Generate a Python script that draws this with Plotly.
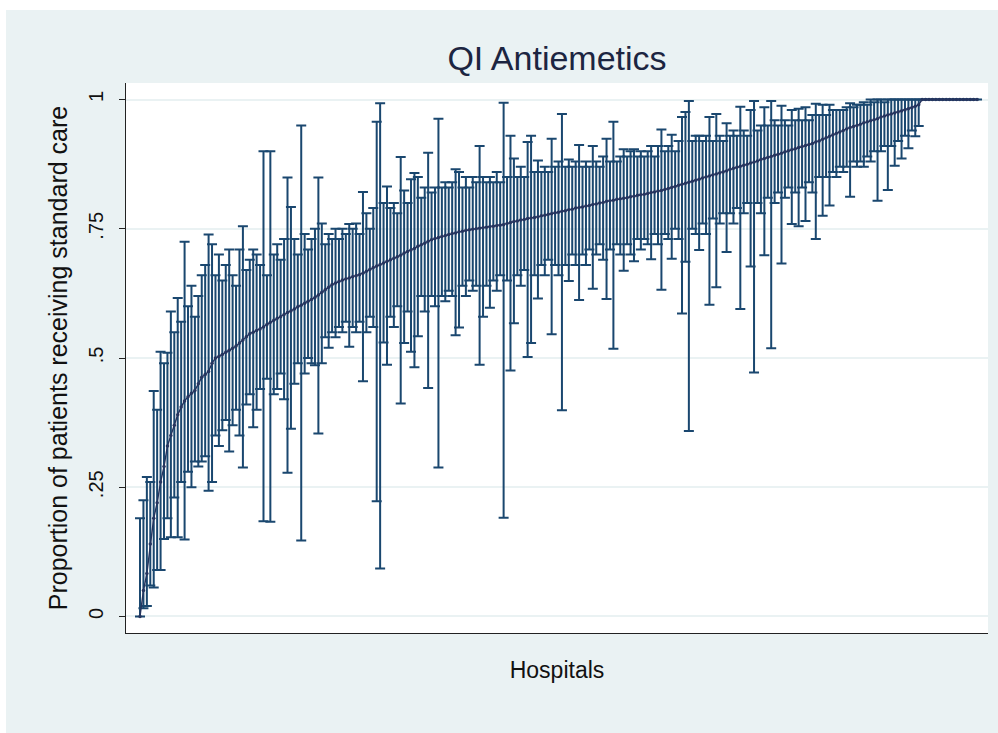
import plotly.graph_objects as go

# ---------------- data ----------------
mean = [
    0.000, 0.050, 0.083, 0.140, 0.190, 0.220, 0.260, 0.290, 0.330, 0.350,
    0.370, 0.390, 0.405, 0.417, 0.425, 0.432, 0.437, 0.450, 0.463, 0.468,
    0.474, 0.490, 0.500, 0.503, 0.507, 0.511, 0.515, 0.519, 0.523, 0.529,
    0.535, 0.541, 0.547, 0.550, 0.553, 0.556, 0.560, 0.565, 0.569, 0.573,
    0.577, 0.580, 0.584, 0.588, 0.591, 0.595, 0.599, 0.602, 0.606, 0.610,
    0.613, 0.617, 0.622, 0.627, 0.632, 0.637, 0.642, 0.645, 0.648, 0.651,
    0.653, 0.655, 0.657, 0.659, 0.661, 0.664, 0.668, 0.671, 0.675, 0.678,
    0.681, 0.684, 0.687, 0.690, 0.693, 0.696, 0.699, 0.703, 0.706, 0.709,
    0.712, 0.716, 0.719, 0.722, 0.726, 0.729, 0.731, 0.733, 0.735, 0.737,
    0.739, 0.741, 0.742, 0.744, 0.745, 0.747, 0.748, 0.749, 0.750, 0.751,
    0.752, 0.753, 0.754, 0.755, 0.756, 0.757, 0.758, 0.760, 0.762, 0.764,
    0.765, 0.767, 0.768, 0.770, 0.771, 0.772, 0.773, 0.775, 0.776, 0.778,
    0.779, 0.781, 0.782, 0.784, 0.785, 0.787, 0.788, 0.790, 0.791, 0.792,
    0.794, 0.795, 0.797, 0.798, 0.800, 0.801, 0.803, 0.804, 0.805, 0.807,
    0.808, 0.809, 0.810, 0.812, 0.813, 0.815, 0.816, 0.817, 0.818, 0.820,
    0.821, 0.823, 0.824, 0.826, 0.828, 0.830, 0.832, 0.834, 0.836, 0.838,
    0.840, 0.842, 0.844, 0.846, 0.848, 0.850, 0.852, 0.854, 0.856, 0.858,
    0.860, 0.862, 0.865, 0.867, 0.869, 0.871, 0.873, 0.875, 0.877, 0.879,
    0.881, 0.884, 0.886, 0.888, 0.890, 0.892, 0.894, 0.896, 0.899, 0.901,
    0.903, 0.905, 0.907, 0.909, 0.911, 0.913, 0.915, 0.918, 0.920, 0.923,
    0.926, 0.929, 0.932, 0.935, 0.937, 0.940, 0.943, 0.946, 0.948, 0.950,
    0.952, 0.955, 0.957, 0.959, 0.961, 0.963, 0.966, 0.968, 0.970, 0.972,
    0.974, 0.976, 0.978, 0.980, 0.982, 0.984, 0.987, 0.990, 1.000, 1.000,
    1.000, 1.000, 1.000, 1.000, 1.000, 1.000, 1.000, 1.000, 1.000, 1.000,
    1.000, 1.000, 1.000, 1.000, 1.000,
]

lower = [
    0.000, 0.016, 0.020, 0.060, 0.056, 0.090, 0.090, 0.150, 0.190, 0.153,
    0.230, 0.153, 0.260, 0.149, 0.280, 0.250, 0.300, 0.290, 0.300, 0.310,
    0.243, 0.260, 0.350, 0.330, 0.360, 0.380, 0.319, 0.370, 0.400, 0.350,
    0.288, 0.410, 0.430, 0.366, 0.400, 0.440, 0.184, 0.460, 0.183, 0.430,
    0.440, 0.470, 0.420, 0.278, 0.363, 0.450, 0.490, 0.147, 0.470, 0.500,
    0.490, 0.486, 0.354, 0.490, 0.540, 0.520, 0.550, 0.540, 0.560, 0.550,
    0.570, 0.522, 0.560, 0.550, 0.570, 0.455, 0.550, 0.580, 0.560, 0.223,
    0.093, 0.530, 0.487, 0.580, 0.560, 0.600, 0.412, 0.529, 0.590, 0.512,
    0.482, 0.542, 0.620, 0.590, 0.442, 0.620, 0.600, 0.288, 0.620, 0.610,
    0.630, 0.620, 0.544, 0.559, 0.640, 0.620, 0.650, 0.630, 0.640, 0.487,
    0.580, 0.640, 0.597, 0.650, 0.630, 0.660, 0.191, 0.650, 0.476, 0.567,
    0.660, 0.640, 0.670, 0.502, 0.529, 0.660, 0.615, 0.680, 0.660, 0.690,
    0.546, 0.680, 0.660, 0.399, 0.680, 0.649, 0.700, 0.680, 0.612, 0.700,
    0.680, 0.710, 0.634, 0.700, 0.720, 0.690, 0.614, 0.710, 0.518, 0.720,
    0.700, 0.669, 0.720, 0.700, 0.687, 0.730, 0.710, 0.730, 0.720, 0.691,
    0.740, 0.720, 0.632, 0.740, 0.730, 0.692, 0.750, 0.730, 0.586, 0.686,
    0.359, 0.750, 0.740, 0.709, 0.760, 0.740, 0.603, 0.770, 0.637, 0.760,
    0.780, 0.705, 0.780, 0.760, 0.790, 0.595, 0.780, 0.800, 0.677, 0.472,
    0.800, 0.780, 0.699, 0.810, 0.519, 0.800, 0.820, 0.683, 0.810, 0.830,
    0.759, 0.820, 0.755, 0.830, 0.765, 0.840, 0.820, 0.730, 0.850, 0.775,
    0.850, 0.795, 0.860, 0.850, 0.870, 0.860, 0.870, 0.812, 0.880, 0.870,
    0.880, 0.870, 0.890, 0.880, 0.900, 0.804, 0.900, 0.910, 0.825, 0.910,
    0.872, 0.920, 0.886, 0.930, 0.906, 0.940, 0.929, 0.949, 1.000, 1.000,
    1.000, 1.000, 1.000, 1.000, 1.000, 1.000, 1.000, 1.000, 1.000, 1.000,
    1.000, 1.000, 1.000, 1.000, 1.000,
]

upper = [
    0.190, 0.225, 0.270, 0.260, 0.436, 0.400, 0.512, 0.490, 0.510, 0.590,
    0.550, 0.616, 0.570, 0.725, 0.600, 0.640, 0.580, 0.620, 0.660, 0.680,
    0.739, 0.720, 0.660, 0.700, 0.650, 0.680, 0.710, 0.660, 0.640, 0.710,
    0.755, 0.670, 0.690, 0.710, 0.700, 0.680, 0.900, 0.660, 0.900, 0.700,
    0.720, 0.690, 0.730, 0.849, 0.792, 0.730, 0.700, 0.950, 0.740, 0.710,
    0.730, 0.750, 0.849, 0.760, 0.720, 0.740, 0.730, 0.750, 0.730, 0.750,
    0.740, 0.759, 0.750, 0.760, 0.740, 0.821, 0.780, 0.750, 0.790, 0.957,
    0.993, 0.800, 0.832, 0.790, 0.800, 0.780, 0.889, 0.824, 0.800, 0.846,
    0.858, 0.850, 0.810, 0.830, 0.897, 0.820, 0.830, 0.963, 0.830, 0.840,
    0.830, 0.840, 0.865, 0.860, 0.830, 0.850, 0.830, 0.850, 0.840, 0.910,
    0.850, 0.840, 0.850, 0.840, 0.860, 0.840, 0.994, 0.850, 0.930, 0.886,
    0.850, 0.870, 0.850, 0.918, 0.930, 0.860, 0.882, 0.860, 0.870, 0.860,
    0.924, 0.870, 0.880, 0.972, 0.870, 0.884, 0.870, 0.880, 0.912, 0.870,
    0.880, 0.870, 0.910, 0.880, 0.870, 0.890, 0.924, 0.880, 0.957, 0.880,
    0.890, 0.904, 0.890, 0.900, 0.904, 0.890, 0.900, 0.890, 0.900, 0.910,
    0.890, 0.910, 0.942, 0.900, 0.910, 0.932, 0.900, 0.920, 0.966, 0.976,
    0.997, 0.920, 0.930, 0.930, 0.920, 0.930, 0.966, 0.920, 0.972, 0.930,
    0.920, 0.954, 0.930, 0.940, 0.930, 0.986, 0.940, 0.930, 0.980, 0.997,
    0.940, 0.950, 0.985, 0.950, 0.997, 0.960, 0.950, 0.988, 0.960, 0.950,
    0.980, 0.960, 0.982, 0.960, 0.985, 0.960, 0.970, 0.992, 0.970, 0.990,
    0.970, 0.990, 0.980, 0.980, 0.980, 0.980, 0.985, 0.993, 0.985, 0.990,
    0.990, 0.995, 0.990, 1.000, 0.995, 1.000, 1.000, 0.995, 1.000, 1.000,
    1.000, 1.000, 1.000, 1.000, 1.000, 1.000, 1.000, 1.000, 1.000, 1.000,
    1.000, 1.000, 1.000, 1.000, 1.000,
]

ytick_vals = [0, 0.25, 0.5, 0.75, 1]
ytick_text = ["0", ".25", ".5", ".75", "1"]

hospital_rank = list(range(1, len(mean) + 1))

# ---------------- figure ----------------
CI_COLOR = "#1a476f"
MEAN_COLOR = "#26355f"
BG = "#EAF2F3"
FONT = "Liberation Sans, Arial, sans-serif"

err_plus = [u - m for u, m in zip(upper, mean)]
err_minus = [m - l for m, l in zip(mean, lower)]

fig = go.Figure()
fig.add_trace(go.Scatter(
    x=hospital_rank, y=mean, mode="markers",
    marker=dict(size=1, color=CI_COLOR),
    error_y=dict(type="data", symmetric=False, array=err_plus,
                 arrayminus=err_minus, color=CI_COLOR, thickness=2, width=5),
    hoverinfo="skip", showlegend=False,
))
fig.add_trace(go.Scatter(
    x=hospital_rank, y=mean, mode="lines+markers",
    line=dict(color=MEAN_COLOR, width=1.4),
    marker=dict(size=3.5, color=MEAN_COLOR),
    showlegend=False,
))

# plot area: x 126..988 px, y 83..633 px
W, H = 998, 733
L, R, T, B = 126, 988, 83, 633
pw, ph = R - L, B - T

def px_to_paper_x(px):
    return (px - L) / pw

def py_to_paper_y(py):
    return (B - py) / ph

shapes = [
    dict(type="rect", xref="paper", yref="paper", layer="below",
         x0=px_to_paper_x(-5), x1=px_to_paper_x(W + 5),
         y0=py_to_paper_y(10), y1=py_to_paper_y(-5),
         fillcolor="white", line=dict(width=0)),
    dict(type="rect", xref="paper", yref="paper", layer="below",
         x0=px_to_paper_x(-5), x1=px_to_paper_x(6),
         y0=py_to_paper_y(H + 5), y1=py_to_paper_y(-5),
         fillcolor="white", line=dict(width=0)),
]

fig.update_layout(
    width=W, height=H,
    margin=dict(l=L, r=W - R, t=T, b=H - B),
    paper_bgcolor=BG, plot_bgcolor="white",
    font=dict(family=FONT, color="#111111"),
    title=dict(text="QI Antiemetics", x=0.5, xref="paper", xanchor="center",
               y=1 - 58 / H, yref="container", yanchor="middle",
               font=dict(size=34, color="#1c2541", family=FONT)),
    shapes=shapes,
    xaxis=dict(range=[-3.08, 248.2], showgrid=False, zeroline=False,
               showticklabels=False, ticks="", showline=True,
               linecolor="#222222", linewidth=1.4,
               title=dict(text="Hospitals", standoff=28,
                          font=dict(size=23, color="#111111"))),
    yaxis=dict(range=[-0.032, 1.032], tickvals=ytick_vals, ticktext=ytick_text,
               tickangle=-90, ticks="outside", ticklen=6, tickwidth=1.2,
               tickcolor="#222222", tickfont=dict(size=20, color="#111111"),
               ticklabelstandoff=8,
               showline=True, linecolor="#222222", linewidth=1.4,
               showgrid=True, gridcolor=BG, gridwidth=1.5, zeroline=False,
               title=dict(text="Proportion of patients receiving standard care",
                          standoff=10, font=dict(size=25, color="#111111"))),
)

fig.write_html("out.html")
